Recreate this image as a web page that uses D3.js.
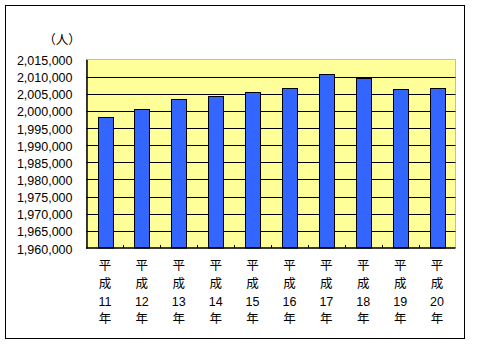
<!DOCTYPE html>
<html><head><meta charset="utf-8">
<script src="https://cdn.jsdelivr.net/npm/d3@7"></script>
<style>body{margin:0;background:#fff}svg{display:block}</style>
</head><body>
<svg id="c" width="500" height="350"></svg>
<script>
const categories = ["11","12","13","14","15","16","17","18","19","20"];
const values = [1998100,2000440,2003350,2004230,2005390,2006560,2010640,2009480,2006270,2006560];
const yTicks = [1960000,1965000,1970000,1975000,1980000,1985000,1990000,1995000,2000000,2005000,2010000,2015000];
const unitLabel = "（人）";

const svg = d3.select("#c");
const L = 86.5, T = 59.5, R = 455.5, B = 248;
const x = d3.scaleBand().domain(categories).range([L, R]).paddingInner(0.6).paddingOuter(0.3);
const xb = d3.scaleBand().domain(categories).range([L, R]);
const y = d3.scaleLinear().domain([1960000, 2015000]).range([B, T]);

svg.append("rect").attr("x",5.5).attr("y",5.5).attr("width",459).attr("height",333)
  .attr("fill","#fff").attr("stroke","#000").attr("stroke-width",1);

svg.append("rect").attr("x",L).attr("y",T).attr("width",R-L).attr("height",B-T)
  .attr("fill","#FFFF99").attr("stroke","#808080").attr("stroke-width",1).attr("stroke-dasharray","1,1");

svg.append("g").selectAll("line").data(yTicks.slice(1,-1)).join("line")
  .attr("x1",L).attr("x2",R).attr("y1",d=>Math.round(y(d))+0.5).attr("y2",d=>Math.round(y(d))+0.5)
  .attr("stroke","#000").attr("stroke-width",1);

svg.append("g").selectAll("rect").data(values).join("rect")
  .attr("x",(d,i)=>Math.round(x(categories[i]))+0.5)
  .attr("width",Math.round(x.bandwidth()))
  .attr("y",d=>Math.round(y(d))+0.5)
  .attr("height",d=>B-Math.round(y(d))-0.5)
  .attr("fill","#3366FF").attr("stroke","#000").attr("stroke-width",1);

// axes
const yAxis = d3.axisLeft(y).tickValues(yTicks).tickSize(0).tickFormat(d3.format(","));
const gy = svg.append("g").attr("transform",`translate(${L},0)`).call(yAxis);
gy.select(".domain").attr("stroke","#000").attr("stroke-width",1.5);
gy.selectAll("text").attr("x",-14).attr("dy","0.4em")
  .attr("font-family","Liberation Sans, Arial, sans-serif").attr("font-size","12.5px").attr("fill","#000");

svg.append("line").attr("x1",L-0.5).attr("x2",R).attr("y1",B).attr("y2",B).attr("stroke","#000").attr("stroke-width",1.5);
svg.append("g").selectAll("line").data(categories.slice(1)).join("line")
  .attr("x1",d=>Math.round(xb(d))+0.5).attr("x2",d=>Math.round(xb(d))+0.5)
  .attr("y1",B).attr("y2",B-3).attr("stroke","#000");

const lab = svg.append("g").attr("font-size","12.5px").attr("fill","#000").attr("text-anchor","middle");
categories.forEach(c=>{
  const cx = xb(c)+xb.bandwidth()/2;
  const lines = ["平","成",c,"年"];
  const ys = [265,283.5,301,318.5];
  lines.forEach((t,k)=>{
    lab.append("text").attr("x",cx).attr("y",ys[k]).attr("dy","0.38em")
      .attr("font-family", k===2 ? "Liberation Sans, Arial, sans-serif" : "Noto Sans CJK JP, sans-serif")
      .text(t);
  });
});

svg.append("text").attr("x",62).attr("y",39).attr("dy","0.38em").attr("text-anchor","middle")
  .attr("font-family","Noto Sans CJK JP, sans-serif").attr("font-size","12.5px").text(unitLabel);
</script>
</body></html>
